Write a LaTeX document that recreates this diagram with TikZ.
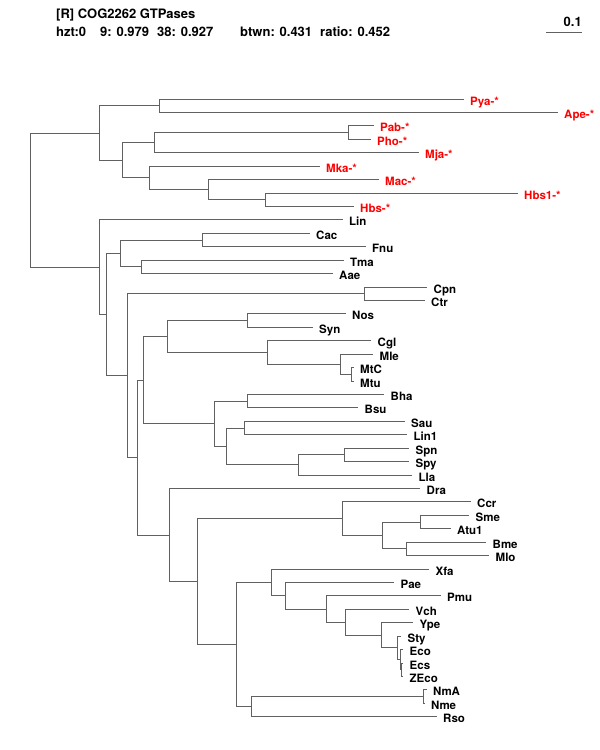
\documentclass[tikz,border=0pt]{standalone}
\usepackage{fontspec}
\setmainfont{TeX Gyre Heros}
\usepackage{tikz}

\begin{document}
\begin{tikzpicture}[x=1pt, y=-1pt]
  % styles
  \tikzstyle{branch}=[draw=black!62, line width=1.8pt, line cap=rect]
  \tikzstyle{taxon}=[anchor=base west, inner sep=0pt, xshift=7pt, yshift=-5.5pt, font=\fontsize{11.5}{13}\selectfont\bfseries]
  \tikzstyle{archaeon}=[taxon, text=red]
  \tikzstyle{header}=[anchor=base west, inner sep=0pt, font=\fontsize{13}{15}\selectfont\bfseries]

  \useasboundingbox (0,0) rectangle (600,750);

  % header
  \node [header] (title) at (56,18.5) {[R] COG2262 GTPases};
  \node [header] (hzt) at (56,36) {hzt:0};
  \node [header] (s9) at (100,36) {9: 0.979};
  \node [header] (s38) at (157,36) {38: 0.927};
  \node [header] (btwn) at (240,36) {btwn: 0.431};
  \node [header] (ratio) at (320,36) {ratio: 0.452};

  % scale bar
  \coordinate (bar-l) at (547,32.5);
  \coordinate (bar-r) at (581,32.5);
  \draw [branch] (bar-l) -- (bar-r);
  \node [header, anchor=base east] (bar-lbl) at (582,26.5) {0.1};

  % archaeal leaves
  \coordinate (Pya) at (463,99.5);   \node [archaeon] (Pya-lbl) at (Pya) {Pya-*};
  \coordinate (Ape) at (557,112.5);  \node [archaeon] (Ape-lbl) at (Ape) {Ape-*};
  \coordinate (Pab) at (373,125.5);  \node [archaeon] (Pab-lbl) at (Pab) {Pab-*};
  \coordinate (Pho) at (370,139.5);  \node [archaeon] (Pho-lbl) at (Pho) {Pho-*};
  \coordinate (Mja) at (418,152.5);  \node [archaeon] (Mja-lbl) at (Mja) {Mja-*};
  \coordinate (Mka) at (319,166.5);  \node [archaeon] (Mka-lbl) at (Mka) {Mka-*};
  \coordinate (Mac) at (378,179.5);  \node [archaeon] (Mac-lbl) at (Mac) {Mac-*};
  \coordinate (Hbs1) at (517,193.5); \node [archaeon] (Hbs1-lbl) at (Hbs1) {Hbs1-*};
  \coordinate (Hbs) at (353,206.5);  \node [archaeon] (Hbs-lbl) at (Hbs) {Hbs-*};

  % bacterial leaves
  \coordinate (Lin) at (342,219.5);  \node [taxon] (Lin-lbl) at (Lin) {Lin};
  \coordinate (Cac) at (309,233.5);  \node [taxon] (Cac-lbl) at (Cac) {Cac};
  \coordinate (Fnu) at (365,246.5);  \node [taxon] (Fnu-lbl) at (Fnu) {Fnu};
  \coordinate (Tma) at (343,260.5);  \node [taxon] (Tma-lbl) at (Tma) {Tma};
  \coordinate (Aae) at (332,273.5);  \node [taxon] (Aae-lbl) at (Aae) {Aae};
  \coordinate (Cpn) at (426.5,287.5);\node [taxon] (Cpn-lbl) at (Cpn) {Cpn};
  \coordinate (Ctr) at (424,300.5);  \node [taxon] (Ctr-lbl) at (Ctr) {Ctr};
  \coordinate (Nos) at (345,313.5);  \node [taxon] (Nos-lbl) at (Nos) {Nos};
  \coordinate (Syn) at (312,327.5);  \node [taxon] (Syn-lbl) at (Syn) {Syn};
  \coordinate (Cgl) at (370.5,340.5);\node [taxon] (Cgl-lbl) at (Cgl) {Cgl};
  \coordinate (Mle) at (372.5,354.5);\node [taxon] (Mle-lbl) at (Mle) {Mle};
  \coordinate (MtC) at (353,367.5);  \node [taxon] (MtC-lbl) at (MtC) {MtC};
  \coordinate (Mtu) at (353,381.5);  \node [taxon] (Mtu-lbl) at (Mtu) {Mtu};
  \coordinate (Bha) at (383.5,394.5);\node [taxon] (Bha-lbl) at (Bha) {Bha};
  \coordinate (Bsu) at (357.5,407.5);\node [taxon] (Bsu-lbl) at (Bsu) {Bsu};
  \coordinate (Sau) at (404,421.5);  \node [taxon] (Sau-lbl) at (Sau) {Sau};
  \coordinate (Lin1) at (406.5,434.5);\node [taxon] (Lin1-lbl) at (Lin1) {Lin1};
  \coordinate (Spn) at (408.5,448.5);\node [taxon] (Spn-lbl) at (Spn) {Spn};
  \coordinate (Spy) at (408.5,461.5);\node [taxon] (Spy-lbl) at (Spy) {Spy};
  \coordinate (Lla) at (411.5,475.5);\node [taxon] (Lla-lbl) at (Lla) {Lla};
  \coordinate (Dra) at (419.5,488.5);\node [taxon] (Dra-lbl) at (Dra) {Dra};
  \coordinate (Ccr) at (470,501.5);  \node [taxon] (Ccr-lbl) at (Ccr) {Ccr};
  \coordinate (Sme) at (468.5,515.5);\node [taxon] (Sme-lbl) at (Sme) {Sme};
  \coordinate (Atu1) at (450,528.5); \node [taxon] (Atu1-lbl) at (Atu1) {Atu1};
  \coordinate (Bme) at (485.5,542.5);\node [taxon] (Bme-lbl) at (Bme) {Bme};
  \coordinate (Mlo) at (488.5,555.5);\node [taxon] (Mlo-lbl) at (Mlo) {Mlo};
  \coordinate (Xfa) at (428.5,569.5);\node [taxon] (Xfa-lbl) at (Xfa) {Xfa};
  \coordinate (Pae) at (393.5,582.5);\node [taxon] (Pae-lbl) at (Pae) {Pae};
  \coordinate (Pmu) at (440,595.5);  \node [taxon] (Pmu-lbl) at (Pmu) {Pmu};
  \coordinate (Vch) at (408.5,609.5);\node [taxon] (Vch-lbl) at (Vch) {Vch};
  \coordinate (Ype) at (412.5,622.5);\node [taxon] (Ype-lbl) at (Ype) {Ype};
  \coordinate (Sty) at (400.5,636.5);\node [taxon] (Sty-lbl) at (Sty) {Sty};
  \coordinate (Eco) at (402.5,649.5);\node [taxon] (Eco-lbl) at (Eco) {Eco};
  \coordinate (Ecs) at (402.5,663.5);\node [taxon] (Ecs-lbl) at (Ecs) {Ecs};
  \coordinate (ZEco) at (402.5,676.5);\node [taxon] (ZEco-lbl) at (ZEco) {ZEco};
  \coordinate (NmA) at (426,689.5);  \node [taxon] (NmA-lbl) at (NmA) {NmA};
  \coordinate (Nme) at (424,703.5);  \node [taxon] (Nme-lbl) at (Nme) {Nme};
  \coordinate (Rso) at (436,716.5);  \node [taxon] (Rso-lbl) at (Rso) {Rso};

  % inner nodes
  \coordinate (root) at (30.5,200.5);
  \coordinate (arch) at (99.5,133.5);
  \coordinate (pyape) at (159.5,105.5);
  \coordinate (arch2) at (122.5,160.5);
  \coordinate (ppm) at (154.5,142.5);
  \coordinate (pabpho) at (348.5,132.5);
  \coordinate (mka) at (149.5,177.5);
  \coordinate (machbs) at (208.5,189.5);
  \coordinate (hbs) at (265.5,199.5);
  \coordinate (bact) at (99.5,267.5);
  \coordinate (nC) at (106.5,314.5);
  \coordinate (nD) at (120.5,253.5);
  \coordinate (cacfnu) at (202.5,240.5);
  \coordinate (tmaaae) at (141.5,266.5);
  \coordinate (nE) at (127.5,375.5);
  \coordinate (cpnctr) at (364.5,293.5);
  \coordinate (nF) at (137.5,457.5);
  \coordinate (nG) at (143.5,380.5);
  \coordinate (nH) at (167.5,336.5);
  \coordinate (nossyn) at (247.5,320.5);
  \coordinate (cglm) at (267.5,352.5);
  \coordinate (mlem) at (340.5,364.5);
  \coordinate (mtcmtu) at (351.5,374.5);
  \coordinate (nI) at (214.5,423.5);
  \coordinate (bhabsu) at (247.5,401.5);
  \coordinate (nJ) at (226.5,446.5);
  \coordinate (saulin) at (244.5,428.5);
  \coordinate (nK) at (298.5,464.5);
  \coordinate (spnspy) at (344.5,454.5);
  \coordinate (nL) at (169.5,535.5);
  \coordinate (nM) at (197.5,581.5);
  \coordinate (nN) at (342.5,518.5);
  \coordinate (nO) at (382.5,535.5);
  \coordinate (smeatu) at (420.5,522.5);
  \coordinate (bmemlo) at (406.5,548.5);
  \coordinate (nP) at (236.5,644.5);
  \coordinate (nQ) at (271.5,582.5);
  \coordinate (nR) at (285.5,595.5);
  \coordinate (nS) at (326.5,609.5);
  \coordinate (nT) at (345.5,622.5);
  \coordinate (nU) at (381.5,635.5);
  \coordinate (nV) at (397.5,647.5);
  \coordinate (eco3) at (400.5,659.5);
  \coordinate (ecszeco) at (401.5,669.5);
  \coordinate (nW) at (251.5,706.5);
  \coordinate (nmanme) at (423.5,696.5);

  % branches
  \draw [branch] (root) |- (arch) (root) |- (bact);
  \draw [branch] (arch) |- (pyape) (arch) |- (arch2);
  \draw [branch] (pyape) |- (Pya) (pyape) |- (Ape);
  \draw [branch] (arch2) |- (ppm) (arch2) |- (mka);
  \draw [branch] (ppm) |- (pabpho) (ppm) |- (Mja);
  \draw [branch] (pabpho) |- (Pab) (pabpho) |- (Pho);
  \draw [branch] (mka) |- (Mka) (mka) |- (machbs);
  \draw [branch] (machbs) |- (Mac) (machbs) |- (hbs);
  \draw [branch] (hbs) |- (Hbs1) (hbs) |- (Hbs);

  \draw [branch] (bact) |- (Lin) (bact) |- (nC);
  \draw [branch] (nC) |- (nD) (nC) |- (nE);
  \draw [branch] (nD) |- (cacfnu) (nD) |- (tmaaae);
  \draw [branch] (cacfnu) |- (Cac) (cacfnu) |- (Fnu);
  \draw [branch] (tmaaae) |- (Tma) (tmaaae) |- (Aae);
  \draw [branch] (nE) |- (cpnctr) (nE) |- (nF);
  \draw [branch] (cpnctr) |- (Cpn) (cpnctr) |- (Ctr);
  \draw [branch] (nF) |- (nG) (nF) |- (nL);
  \draw [branch] (nG) |- (nH) (nG) |- (nI);
  \draw [branch] (nH) |- (nossyn) (nH) |- (cglm);
  \draw [branch] (nossyn) |- (Nos) (nossyn) |- (Syn);
  \draw [branch] (cglm) |- (Cgl) (cglm) |- (mlem);
  \draw [branch] (mlem) |- (Mle) (mlem) |- (mtcmtu);
  \draw [branch] (mtcmtu) |- (MtC) (mtcmtu) |- (Mtu);
  \draw [branch] (nI) |- (bhabsu) (nI) |- (nJ);
  \draw [branch] (bhabsu) |- (Bha) (bhabsu) |- (Bsu);
  \draw [branch] (nJ) |- (saulin) (nJ) |- (nK);
  \draw [branch] (saulin) |- (Sau) (saulin) |- (Lin1);
  \draw [branch] (nK) |- (spnspy) (nK) |- (Lla);
  \draw [branch] (spnspy) |- (Spn) (spnspy) |- (Spy);
  \draw [branch] (nL) |- (Dra) (nL) |- (nM);
  \draw [branch] (nM) |- (nN) (nM) |- (nP);
  \draw [branch] (nN) |- (Ccr) (nN) |- (nO);
  \draw [branch] (nO) |- (smeatu) (nO) |- (bmemlo);
  \draw [branch] (smeatu) |- (Sme) (smeatu) |- (Atu1);
  \draw [branch] (bmemlo) |- (Bme) (bmemlo) |- (Mlo);
  \draw [branch] (nP) |- (nQ) (nP) |- (nW);
  \draw [branch] (nQ) |- (Xfa) (nQ) |- (nR);
  \draw [branch] (nR) |- (Pae) (nR) |- (nS);
  \draw [branch] (nS) |- (Pmu) (nS) |- (nT);
  \draw [branch] (nT) |- (Vch) (nT) |- (nU);
  \draw [branch] (nU) |- (Ype) (nU) |- (nV);
  \draw [branch] (nV) |- (Sty) (nV) |- (eco3);
  \draw [branch] (eco3) |- (Eco) (eco3) |- (ecszeco);
  \draw [branch] (ecszeco) |- (Ecs) (ecszeco) |- (ZEco);
  \draw [branch] (nW) |- (nmanme) (nW) |- (Rso);
  \draw [branch] (nmanme) |- (NmA) (nmanme) |- (Nme);
\end{tikzpicture}
\end{document}
